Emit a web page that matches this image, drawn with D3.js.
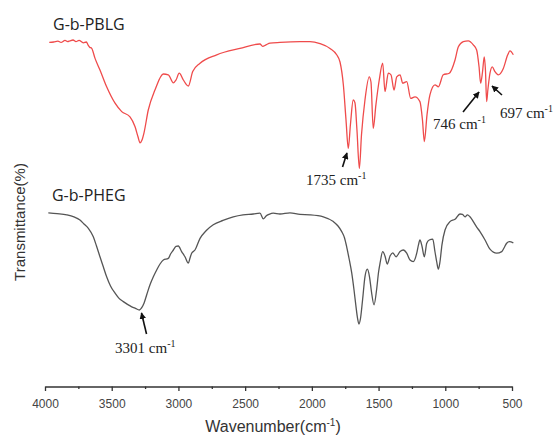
<!DOCTYPE html>
<html>
<head>
<meta charset="utf-8">
<script src="https://cdn.jsdelivr.net/npm/d3@7"></script>
<style>
  html, body { margin: 0; padding: 0; background: #fff; }
  svg { display: block; }
</style>
</head>
<body>
<svg id="chart" width="555" height="437"></svg>
<script>
// ---- data (wavenumber cm-1, transmittance in arbitrary %) ----
const majorTicks = [4000, 3500, 3000, 2500, 2000, 1500, 1000, 500];
const minorTicks = [3750, 3250, 2750, 2250, 1750, 1250, 750];

const pblgWave = [3968,3935,3903,3880,3850,3830,3813,3790,3768,3745,3713,3690,3678,3665,3650,3625,3588,3538,3475,3425,3363,3325,3303,3288,3273,3258,3226,3176,3113,3076,3038,3018,2994,2963,2926,2893,2838,2713,2539,2389,2369,2343,2314,2239,2089,2014,1939,1864,1814,1789,1764,1744,1727,1711,1690,1677,1662,1644,1628,1602,1570,1557,1540,1520,1495,1469,1452,1427,1407,1384,1364,1339,1319,1289,1259,1227,1190,1171,1157,1137,1115,1077,1052,1015,970,927,902,865,828,790,765,747,735,721,708,699,690,681,665,648,628,603,565,532,515,490];
const pblgT    = [89.4,89.5,89.7,89.4,89.9,89.6,89.8,90.0,89.6,89.9,89.3,89.5,88.8,88.2,87.9,85.4,82.5,78.3,74.2,72.1,70.8,68.3,65.8,64.3,65.0,66.8,72.5,77.5,81.5,81.3,79.3,80.0,81.7,80.0,78.5,82.1,84.2,86.3,87.9,89.0,88.4,88.8,89.2,89.4,89.6,89.6,89.1,87.9,86.3,84.5,78.8,70.0,62.9,68.8,75.0,74.3,67.5,57.9,66.3,75.0,80.8,79.5,67.9,73.8,80.0,84.2,77.1,81.7,81.3,77.5,80.8,81.3,79.2,79.6,75.4,75.8,74.6,70.0,64.6,71.3,76.3,78.8,78.3,81.3,81.7,85.0,88.3,89.6,89.8,88.8,87.5,83.3,79.2,82.0,85.8,82.5,74.6,77.5,81.7,83.3,82.1,81.3,82.9,86.3,87.3,86.3];

const phegWave = [3975,3910,3837,3783,3738,3708,3675,3638,3614,3588,3563,3538,3509,3475,3445,3413,3382,3350,3322,3293,3277,3258,3236,3213,3188,3163,3138,3113,3076,3059,3038,3018,3001,2976,2951,2926,2913,2901,2876,2838,2793,2739,2666,2589,2516,2439,2389,2364,2343,2321,2289,2239,2164,2089,2014,1914,1839,1804,1776,1755,1739,1722,1701,1684,1669,1658,1647,1635,1620,1602,1584,1568,1553,1534,1515,1500,1489,1469,1452,1435,1414,1394,1369,1339,1315,1289,1264,1240,1214,1201,1190,1175,1157,1139,1120,1094,1077,1064,1052,1040,1025,1002,965,927,890,871,852,834,815,790,766,740,702,665,615,577,560,540,519,490];
const phegT    = [46.8,46.6,46.3,45.8,45.0,44.0,42.9,40.8,38.5,35.8,33.3,30.8,28.5,26.7,25.4,24.6,23.9,23.3,22.9,22.5,23.0,24.2,26.5,28.8,30.8,32.5,34.0,35.0,35.4,36.5,37.5,38.4,38.5,37.1,35.8,34.2,35.5,36.7,37.5,40.4,42.3,43.8,44.9,45.8,46.3,46.5,46.7,45.3,46.0,46.4,46.7,46.5,46.8,46.4,46.3,45.8,44.6,43.5,42.1,40.5,38.3,35.5,31.7,27.5,23.3,20.5,19.0,20.5,25.0,30.8,32.7,30.8,27.0,23.8,27.5,32.0,34.2,37.1,36.0,34.0,36.0,36.8,35.8,37.1,37.5,36.7,35.0,34.6,36.7,38.8,40.0,38.5,35.8,39.2,40.0,40.2,37.0,34.5,32.7,34.5,38.8,42.5,44.6,45.2,46.5,46.4,45.8,46.3,45.8,44.6,43.3,42.1,40.0,37.7,36.7,37.1,38.0,39.2,39.6,39.3];

const seriesNames = ["G-b-PBLG", "G-b-PHEG"];
// annotations: [label, textWave, textT, tailWave, tailT, tipWave, tipT]
const annotations = [
  ["1735", 2044, 53.75, 1770, 58.25, 1737, 61.75],
  ["746",  1092, 67.75, 867, 72.0, 747, 77.0],
  ["697",  590, 70.5, 575, 76.25, 650, 78.5],
  ["3301", 3475, 11.75, 3239, 16.5, 3277, 21.75]
];
const seriesLabelPos = [[3940, 92.5], [3948, 49.75]];

// ---- drawing ----
const svg = d3.select("#chart");
const x = d3.scaleLinear().domain([4000, 500]).range([45, 512]);
const y = d3.scaleLinear().domain([0, 100]).range([400, 0]);
const axisY = 386.5;

const defs = svg.append("defs");
defs.append("marker")
  .attr("id", "arrow")
  .attr("viewBox", "0 0 10 10")
  .attr("refX", 9).attr("refY", 5)
  .attr("markerWidth", 4.2).attr("markerHeight", 4.2)
  .attr("markerUnits", "strokeWidth")
  .attr("orient", "auto")
  .append("path").attr("d", "M0,0 L10,5 L0,10 z").attr("fill", "#111");

// x axis
const gx = svg.append("g").attr("transform", `translate(0,${axisY})`);
gx.call(d3.axisBottom(x).tickValues(majorTicks).tickSize(4.5).tickSizeOuter(0).tickFormat(d3.format("d")));
gx.select(".domain").attr("stroke", "#333").attr("stroke-width", 1.4);
gx.selectAll(".tick line").attr("stroke", "#333").attr("stroke-width", 1.3);
gx.selectAll(".tick text")
  .attr("font-family", "Liberation Sans, Arial, sans-serif")
  .attr("font-size", 12).attr("fill", "#444").attr("dy", "0.6em").attr("y", 14);
const gm = svg.append("g").attr("transform", `translate(0,${axisY})`);
gm.call(d3.axisBottom(x).tickValues(minorTicks).tickSize(2.5).tickFormat(""));
gm.select(".domain").remove();
gm.selectAll(".tick line").attr("stroke", "#333").attr("stroke-width", 1.3);

// axis titles
const xt = svg.append("text")
  .attr("x", 273).attr("y", 432)
  .attr("text-anchor", "middle")
  .attr("font-family", "Liberation Sans, Arial, sans-serif")
  .attr("font-size", 16).attr("fill", "#333");
xt.append("tspan").text("Wavenumber(cm");
xt.append("tspan").attr("font-size", 10).attr("dy", -6).text("-1");
xt.append("tspan").attr("dy", 6).text(")");

svg.append("text")
  .attr("transform", "translate(25,222) rotate(-90)")
  .attr("text-anchor", "middle")
  .attr("font-family", "Liberation Sans, Arial, sans-serif")
  .attr("font-size", 15).attr("fill", "#333")
  .text("Transmittance(%)");

// curves
const line = d3.line().x(d => x(d[0])).y(d => y(d[1])).curve(d3.curveMonotoneX);
const pblg = pblgWave.map((w, i) => [w, pblgT[i]]);
const pheg = phegWave.map((w, i) => [w, phegT[i]]);
svg.append("path").datum(pblg).attr("d", line)
  .attr("fill", "none").attr("stroke", "#ef4b4b").attr("stroke-width", 1.3);
svg.append("path").datum(pheg).attr("d", line)
  .attr("fill", "none").attr("stroke", "#555").attr("stroke-width", 1.3);

// series labels
seriesNames.forEach((name, i) => {
  svg.append("text")
    .attr("x", x(seriesLabelPos[i][0])).attr("y", y(seriesLabelPos[i][1]))
    .attr("font-family", "Open Sans, sans-serif")
    .attr("font-size", 16).attr("fill", "#222")
    .text(name);
});

// annotations
annotations.forEach(a => {
  const t = svg.append("text")
    .attr("x", x(a[1])).attr("y", y(a[2]))
    .attr("font-family", "Liberation Serif, Times New Roman, serif")
    .attr("font-size", 15).attr("fill", "#222");
  t.append("tspan").text(a[0] + " cm");
  t.append("tspan").attr("font-size", 10).attr("dy", -6).text("-1");
  svg.append("line")
    .attr("x1", x(a[3])).attr("y1", y(a[4]))
    .attr("x2", x(a[5])).attr("y2", y(a[6]))
    .attr("stroke", "#111").attr("stroke-width", 1.6)
    .attr("marker-end", "url(#arrow)");
});
</script>
</body>
</html>
